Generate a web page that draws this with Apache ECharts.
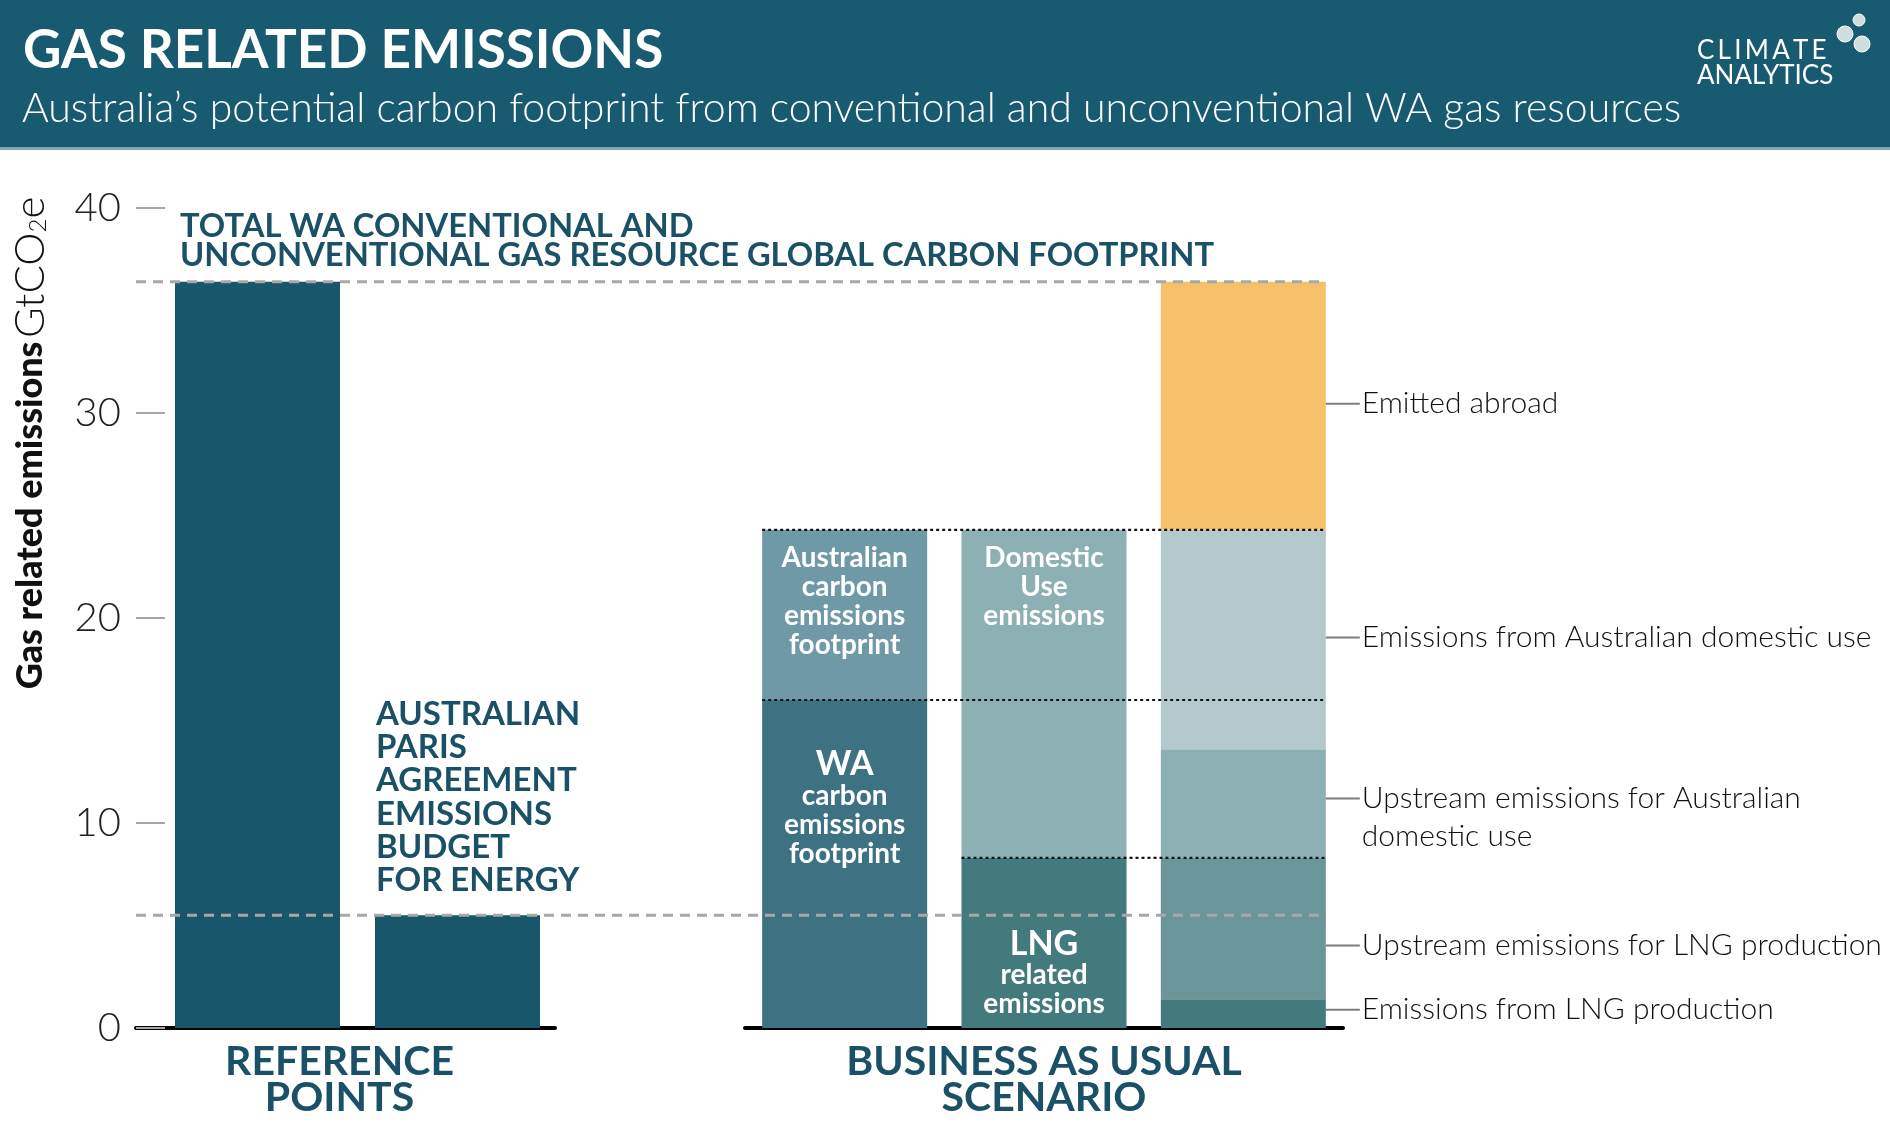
<!DOCTYPE html>
<html><head><meta charset="utf-8">
<script src="https://cdn.jsdelivr.net/npm/echarts@6/dist/echarts.min.js"></script>
<style>html,body{margin:0;padding:0;background:#fff}#c{width:1890px;height:1129px}</style>
</head><body><div id="c"></div>
<script>
// ---------------- data ----------------
const refCategories = ['Total WA gas resource footprint', 'Paris Agreement budget for energy'];
const refValues = [36.4, 5.5];
const bauCategories = ['Carbon footprint', 'Emission type', 'Emission source'];
// stacked segment heights (GtCO2e)
const waFootprint        = [16.0, null, null];
const australianFootprint= [8.3,  null, null];
const lngRelated         = [null, 8.3,  null];
const domesticUse        = [null, 16.0, null];
const lngProduction      = [null, null, 1.4];
const upstreamLng        = [null, null, 6.9];
const upstreamDomestic   = [null, null, 5.3];
const domesticEmissions  = [null, null, 10.7];
const emittedAbroad      = [null, null, 12.1];
const yTicks = [0, 10, 20, 30, 40];

// ---------------- layout / style ----------------
const FONT = 'Lato, "Open Sans", sans-serif';
const DARK = '#1b5167';
const PLOT_TOP = 208, PLOT_H = 820;
const AXIS_LEFT = 136, LEFT_AXIS_W = 419;
const REF_LEFT = 157.5, REF_W = 400;
const BAU_LEFT = 745, BAU_W = 598;
const BAR_W = 165;
const SLOT = BAU_W / bauCategories.length;
const HALF_GAP = (SLOT - BAR_W) / 2 / SLOT;      // in slot units
const X_MIN = (AXIS_LEFT - BAU_LEFT) / SLOT;      // overlay axis min in slot units

const totalFootprint = refValues[0];
const parisBudget = refValues[1];
const australianTotal = waFootprint[0] + australianFootprint[0];
const waTop = waFootprint[0];
const lngTop = lngRelated[1];

const chart = echarts.init(document.getElementById('c'), null, {renderer: 'canvas'});

const inBar = (extra) => Object.assign({
  show: true, color: '#fff', fontFamily: FONT, fontWeight: 'bold',
  fontSize: 28, lineHeight: 29, position: 'insideTop', distance: 14
}, extra);

const sideRich = {
  l: {width: 34, height: 2, backgroundColor: '#7d7d7d'},
  s: {width: 34, height: 2},
  t: {fontFamily: FONT, fontWeight: 300, fontSize: 30, color: '#111', lineHeight: 38, padding: [0, 0, 0, 2]}
};
const side = (fmt, offY) => ({
  show: true, position: 'right', distance: 0, formatter: fmt, rich: sideRich, offset: [0, offY]
});

const refLine = (x0, x1, v, style) => ({
  type: 'line', xAxisIndex: 0, yAxisIndex: 0, z: 10, silent: true, symbol: 'none',
  animation: false, data: [[x0, v], [x1, v]], lineStyle: style
});
const grayDash = {color: '#a8a8a8', width: 3, type: [10, 7]};
const blackDot = {color: '#111', width: 2.2, type: [3, 3]};

const catName = (t, pad) => ({
  name: t, nameLocation: 'middle', nameGap: 16,
  nameTextStyle: {color: DARK, fontFamily: FONT, fontWeight: 'bold', fontSize: 41, lineHeight: 36, padding: pad}
});

const option = {
  backgroundColor: '#fff',
  animation: false,
  grid: [
    {left: AXIS_LEFT, top: PLOT_TOP, width: BAU_LEFT + BAU_W - AXIS_LEFT, height: PLOT_H},
    {left: REF_LEFT, top: PLOT_TOP, width: REF_W, height: PLOT_H},
    {left: BAU_LEFT, top: PLOT_TOP, width: BAU_W, height: PLOT_H},
    {left: AXIS_LEFT, top: PLOT_TOP, width: LEFT_AXIS_W, height: PLOT_H}
  ],
  xAxis: [
    {gridIndex: 0, type: 'value', min: X_MIN, max: bauCategories.length, show: false},
    {gridIndex: 1, type: 'category', data: refCategories, show: false},
    Object.assign({gridIndex: 2, type: 'category', data: bauCategories,
      axisLine: {lineStyle: {color: '#000', width: 4}}, axisTick: {show: false}, axisLabel: {show: false}},
      catName('BUSINESS AS USUAL\nSCENARIO', [0, 0, 0, 0])),
    Object.assign({gridIndex: 3, type: 'category', data: [''],
      axisLine: {lineStyle: {color: '#000', width: 4}}, axisTick: {show: false}, axisLabel: {show: false}},
      catName('REFERENCE\nPOINTS', [0, 12, 0, 0]))
  ],
  yAxis: [
    {gridIndex: 0, type: 'value', min: yTicks[0], max: yTicks[yTicks.length - 1], interval: yTicks[1] - yTicks[0],
      axisLine: {show: false, onZero: false}, splitLine: {show: false},
      axisTick: {show: true, inside: true, length: 29, lineStyle: {color: '#a6a6a6', width: 2}},
      axisLabel: {margin: 15, color: '#222', fontFamily: FONT, fontWeight: 300, fontSize: 40}},
    {gridIndex: 1, type: 'value', min: 0, max: 40, show: false},
    {gridIndex: 2, type: 'value', min: 0, max: 40, show: false},
    {gridIndex: 3, type: 'value', min: 0, max: 40, show: false}
  ],
  graphic: [
    {type: 'rect', z: -1, shape: {x: 0, y: 0, width: 1890, height: 148}, style: {fill: '#185a6f'}},
    {type: 'rect', z: -1, shape: {x: 0, y: 147, width: 1890, height: 3}, style: {fill: '#7fa7b5'}},
    {type: 'text', x: 23, y: 51, style: {text: 'GAS RELATED EMISSIONS', fill: '#fff',
      font: 'bold 53px ' + FONT, textVerticalAlign: 'middle'}},
    {type: 'text', x: 22, y: 109, style: {text: 'Australia\u2019s potential carbon footprint from conventional and unconventional WA gas resources',
      fill: '#fff', font: '300 41px ' + FONT, textVerticalAlign: 'middle'}},
    {type: 'text', x: 1697, y: 51, style: {text: 'C\u2009L\u2009I\u2009M\u2009A\u2009T\u2009E', fill: '#fff',
      font: '26px ' + FONT, textVerticalAlign: 'middle'}},
    {type: 'text', x: 1697, y: 76, style: {text: 'ANALYTICS', fill: '#fff',
      font: '26px ' + FONT, textVerticalAlign: 'middle'}},
    {type: 'circle', shape: {cx: 1845, cy: 34, r: 8}, style: {fill: 'rgba(255,255,255,0.8)', stroke: '#fff', lineWidth: 1}},
    {type: 'circle', shape: {cx: 1859, cy: 20, r: 6}, style: {fill: 'rgba(255,255,255,0.8)', stroke: '#fff', lineWidth: 1}},
    {type: 'circle', shape: {cx: 1862, cy: 44, r: 8}, style: {fill: 'rgba(255,255,255,0.8)', stroke: '#fff', lineWidth: 1}},
    {type: 'text', x: 30, y: 443, rotation: Math.PI / 2, style: {
      text: '{b|Gas related emissions} {l|GtCO}{sub|2}{l|e}', textAlign: 'center', textVerticalAlign: 'middle',
      rich: {
        b: {fontFamily: FONT, fontWeight: 900, fontSize: 36, fill: '#111', color: '#111'},
        l: {fontFamily: FONT, fontWeight: 300, fontSize: 42, fill: '#111', color: '#111'},
        sub: {fontFamily: FONT, fontWeight: 300, fontSize: 24, fill: '#111', color: '#111', padding: [16, 0, 0, 0]}
      }}}
  ],
  series: [
    {type: 'bar', name: 'Reference points', xAxisIndex: 1, yAxisIndex: 1, barWidth: BAR_W,
      itemStyle: {color: '#17566b'},
      data: [
        {value: refValues[0], label: {show: true, position: [5, -12], align: 'left', verticalAlign: 'bottom',
          formatter: 'TOTAL WA CONVENTIONAL AND\nUNCONVENTIONAL GAS RESOURCE GLOBAL CARBON FOOTPRINT',
          color: DARK, fontFamily: FONT, fontWeight: 'bold', fontSize: 32.7, lineHeight: 29}},
        {value: refValues[1], label: {show: true, position: [1, -18], align: 'left', verticalAlign: 'bottom',
          formatter: 'AUSTRALIAN\nPARIS\nAGREEMENT\nEMISSIONS\nBUDGET\nFOR ENERGY',
          color: DARK, fontFamily: FONT, fontWeight: 'bold', fontSize: 33, lineHeight: 33.3}}
      ]},
    {type: 'bar', name: 'WA carbon emissions footprint', xAxisIndex: 2, yAxisIndex: 2, stack: 'a', barWidth: BAR_W,
      itemStyle: {color: '#3c7282'}, data: waFootprint,
      label: inBar({distance: 47, formatter: '{big|WA}\ncarbon\nemissions\nfootprint',
        rich: {big: {fontSize: 34, lineHeight: 34, fontWeight: 'bold', fontFamily: FONT, color: '#fff'}}})},
    {type: 'bar', name: 'Australian carbon emissions footprint', xAxisIndex: 2, yAxisIndex: 2, stack: 'a', barWidth: BAR_W,
      itemStyle: {color: '#6f99a6'}, data: australianFootprint,
      label: inBar({formatter: 'Australian\ncarbon\nemissions\nfootprint'})},
    {type: 'bar', name: 'LNG related emissions', xAxisIndex: 2, yAxisIndex: 2, stack: 'a', barWidth: BAR_W,
      itemStyle: {color: '#427a7d'}, data: lngRelated,
      label: inBar({position: 'insideBottom', distance: 10, formatter: '{big|LNG}\nrelated\nemissions',
        rich: {big: {fontSize: 34, lineHeight: 32, fontWeight: 'bold', fontFamily: FONT, color: '#fff'}}})},
    {type: 'bar', name: 'Domestic Use emissions', xAxisIndex: 2, yAxisIndex: 2, stack: 'a', barWidth: BAR_W,
      itemStyle: {color: '#8db0b4'}, data: domesticUse,
      label: inBar({formatter: 'Domestic\nUse\nemissions'})},
    {type: 'bar', name: 'Emissions from LNG production', xAxisIndex: 2, yAxisIndex: 2, stack: 'a', barWidth: BAR_W,
      itemStyle: {color: '#427a7d'}, data: lngProduction,
      label: side('{l|}{t|Emissions from LNG production}', -4)},
    {type: 'bar', name: 'Upstream emissions for LNG production', xAxisIndex: 2, yAxisIndex: 2, stack: 'a', barWidth: BAR_W,
      itemStyle: {color: '#6a9599'}, data: upstreamLng,
      label: side('{l|}{t|Upstream emissions for LNG production}', 17)},
    {type: 'bar', name: 'Upstream emissions for Australian domestic use', xAxisIndex: 2, yAxisIndex: 2, stack: 'a', barWidth: BAR_W,
      itemStyle: {color: '#8db0b4'}, data: upstreamDomestic,
      label: side('{l|}{t|Upstream emissions for Australian}\n{s|}{t|domestic use}', 14)},
    {type: 'bar', name: 'Emissions from Australian domestic use', xAxisIndex: 2, yAxisIndex: 2, stack: 'a', barWidth: BAR_W,
      itemStyle: {color: '#b4c9cc'}, data: domesticEmissions,
      label: side('{l|}{t|Emissions from Australian domestic use}', -2)},
    {type: 'bar', name: 'Emitted abroad', xAxisIndex: 2, yAxisIndex: 2, stack: 'a', barWidth: BAR_W,
      itemStyle: {color: '#f7c06b'}, data: emittedAbroad,
      label: side('{l|}{t|Emitted abroad}', -2)},
    // reference lines
    refLine(X_MIN, bauCategories.length - HALF_GAP, totalFootprint, grayDash),
    refLine(X_MIN, bauCategories.length - HALF_GAP, parisBudget, grayDash),
    refLine(HALF_GAP, bauCategories.length - HALF_GAP, australianTotal, blackDot),
    refLine(HALF_GAP, bauCategories.length - HALF_GAP, waTop, blackDot),
    refLine(1 + HALF_GAP, bauCategories.length - HALF_GAP, lngTop, blackDot)
  ]
};
chart.setOption(option);
</script></body></html>
